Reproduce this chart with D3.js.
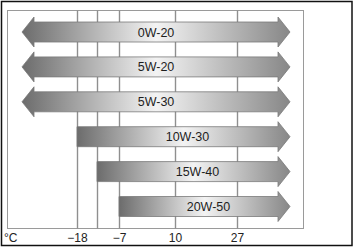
<!DOCTYPE html>
<html>
<head>
<meta charset="utf-8">
<script src="https://cdn.jsdelivr.net/npm/d3@7"></script>
<style>
  html, body { margin: 0; padding: 0; background: #fff; }
  svg { display: block; font-family: "Liberation Sans", Arial, sans-serif; }
</style>
</head>
<body>
<div id="chart"></div>
<script>
// oil grades and their temperature ranges (null = open ended, drawn as arrow)
const grades = ["0W-20", "5W-20", "5W-30", "10W-30", "15W-40", "20W-50"];
const tempFrom = [null, null, null, -18, -12, -7];
const tempTo = [null, null, null, null, null, null];

const tickValues = [-18, -12, -7, 10, 27];
const tickLabels = ["\u221218", "", "\u22127", "10", "27"];
const unitLabel = "\u00B0C";

const width = 354, height = 248;
const plot = { left: 7.5, top: 10.5, right: 303.5, bottom: 228.5 };

const svg = d3.select("#chart").append("svg")
  .attr("width", width)
  .attr("height", height);

// outer black border
svg.append("rect")
  .attr("x", 1.5).attr("y", 1.5)
  .attr("width", width - 3.5).attr("height", height - 4)
  .attr("fill", "#fff")
  .attr("stroke", "#111")
  .attr("stroke-width", 1.5);

// scales - the temperature axis is not evenly spaced in the source
const x = d3.scaleLinear()
  .domain(tickValues)
  .range([77, 97, 119, 175, 237]);
const openLeft = plot.left + 14.5;
const openRight = 290;

const y = d3.scalePoint()
  .domain(grades)
  .range([32, 206.5]);

// gradient for the bars
const defs = svg.append("defs");
const grad = defs.append("linearGradient")
  .attr("id", "barGrad")
  .attr("x1", "0%").attr("y1", "0%").attr("x2", "100%").attr("y2", "0%");
grad.append("stop").attr("offset", "0%").attr("stop-color", "#6c6c6c");
grad.append("stop").attr("offset", "50%").attr("stop-color", "#f3f3f3");
grad.append("stop").attr("offset", "100%").attr("stop-color", "#878787");

// inner frame
svg.append("rect")
  .attr("x", plot.left).attr("y", plot.top)
  .attr("width", plot.right - plot.left)
  .attr("height", plot.bottom - plot.top)
  .attr("fill", "none")
  .attr("stroke", "#9a9a9a")
  .attr("stroke-width", 1);

// grid lines + tick labels
const axis = d3.axisBottom(x)
  .tickValues(tickValues)
  .tickSizeInner(-(plot.bottom - plot.top))
  .tickSizeOuter(0)
  .tickPadding(4.5)
  .tickFormat((d, i) => tickLabels[i]);

const ax = svg.append("g")
  .attr("transform", `translate(0,${plot.bottom})`)
  .call(axis);
ax.select(".domain").remove();
ax.selectAll(".tick line")
  .attr("stroke", "#8f8f8f")
  .attr("stroke-width", 1.4);
ax.selectAll(".tick text")
  .attr("fill", "#222")
  .style("font-size", "12px")
  .style("font-family", "'Liberation Sans', Arial, sans-serif");

svg.append("text")
  .attr("x", 4)
  .attr("y", 241.5)
  .attr("fill", "#222")
  .style("font-size", "12px")
  .text(unitLabel);

// bars / arrows
const shaftH = 20, headH = 30, headL = 12;

const rows = grades.map((g, i) => ({
  grade: g,
  x0: tempFrom[i] == null ? openLeft : x(tempFrom[i]),
  x1: tempTo[i] == null ? openRight : x(tempTo[i]),
  leftArrow: tempFrom[i] == null,
  rightArrow: tempTo[i] == null,
  cy: y(g)
}));

function barPath(r) {
  const t = r.cy - shaftH / 2, b = r.cy + shaftH / 2;
  const ht = r.cy - headH / 2, hb = r.cy + headH / 2;
  const p = d3.path();
  if (r.leftArrow) {
    p.moveTo(r.x0, r.cy);
    p.lineTo(r.x0 + headL, ht);
    p.lineTo(r.x0 + headL, t);
  } else {
    p.moveTo(r.x0, t);
  }
  if (r.rightArrow) {
    p.lineTo(r.x1 - headL, t);
    p.lineTo(r.x1 - headL, ht);
    p.lineTo(r.x1, r.cy);
    p.lineTo(r.x1 - headL, hb);
    p.lineTo(r.x1 - headL, b);
  } else {
    p.lineTo(r.x1, t);
    p.lineTo(r.x1, b);
  }
  if (r.leftArrow) {
    p.lineTo(r.x0 + headL, b);
    p.lineTo(r.x0 + headL, hb);
  } else {
    p.lineTo(r.x0, b);
  }
  p.closePath();
  return p.toString();
}

const bar = svg.selectAll("g.bar")
  .data(rows)
  .join("g")
  .attr("class", "bar");

bar.append("path")
  .attr("d", barPath)
  .attr("fill", "url(#barGrad)")
  .attr("stroke", "#7a7a7a")
  .attr("stroke-width", 0.8)
  .attr("stroke-linejoin", "miter");

bar.append("text")
  .attr("x", d => (d.x0 + d.x1) / 2 + (d.leftArrow ? 0 : 4))
  .attr("y", d => d.cy + 4.5)
  .attr("text-anchor", "middle")
  .attr("fill", "#1e1e1e")
  .style("font-size", "12.5px")
  .text(d => d.grade);
</script>
</body>
</html>
